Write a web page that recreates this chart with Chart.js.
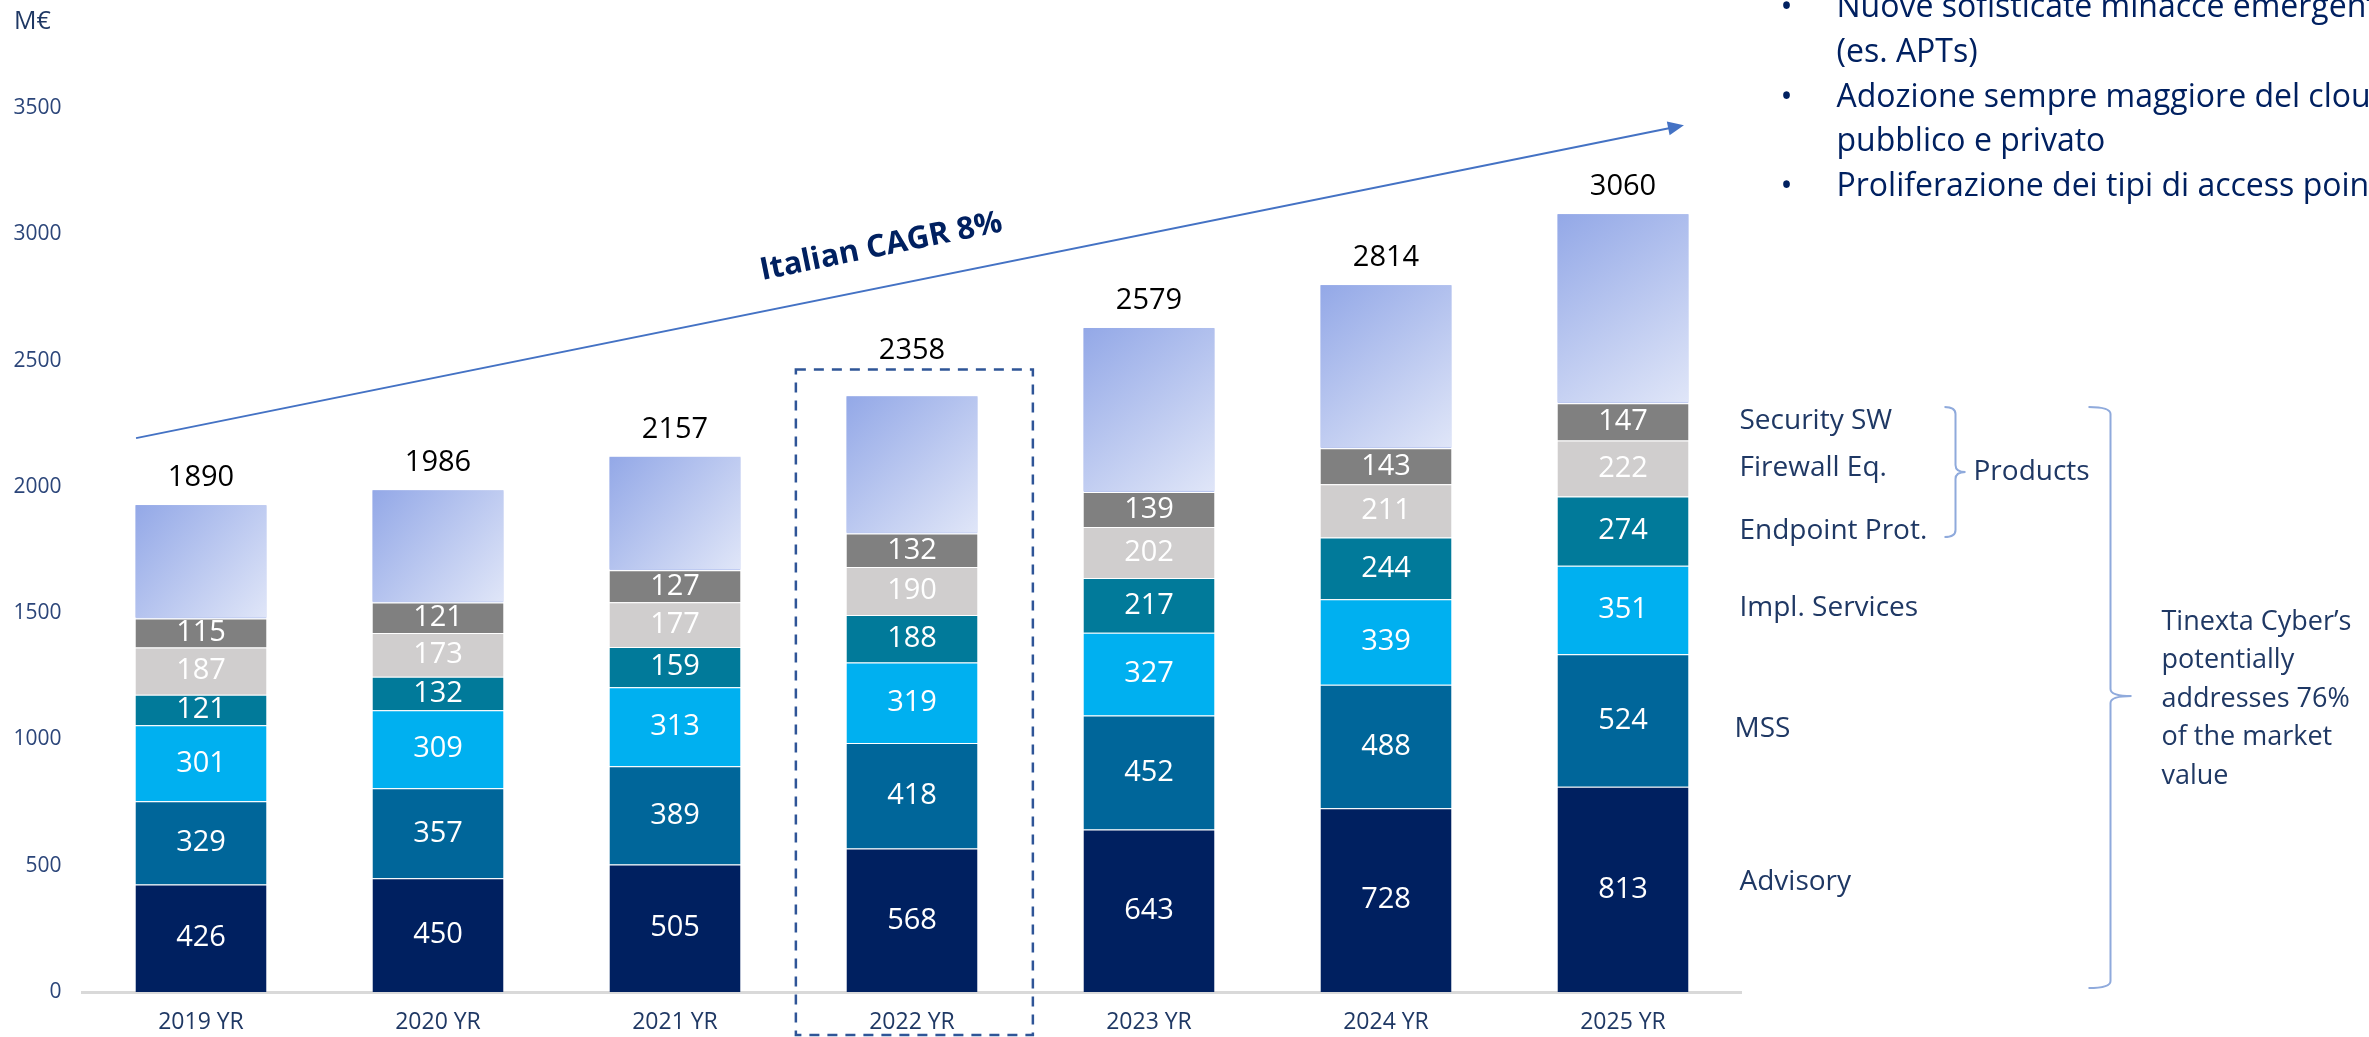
<!doctype html>
<html lang="it">
<head>
  <meta charset="utf-8">
  <title>Mercato italiano cyber security</title>
  <style>
    * { margin: 0; padding: 0; }
    body { background: white; overflow: hidden; }
    .chartBox { width: 2369px; height: 1037px; position: relative; }
  </style>
</head>
<body>
<div class="chartBox">
  <canvas id="myChart"></canvas>
</div>

<script src="https://cdn.jsdelivr.net/npm/chart.js"></script>
<script>
  // data (M€)
  const years = ['2019 YR', '2020 YR', '2021 YR', '2022 YR', '2023 YR', '2024 YR', '2025 YR'];
  const advisory     = [426, 450, 505, 568, 643, 728, 813];
  const mss          = [329, 357, 389, 418, 452, 488, 524];
  const implServices = [301, 309, 313, 319, 327, 339, 351];
  const endpointProt = [121, 132, 159, 188, 217, 244, 274];
  const firewallEq   = [187, 173, 177, 190, 202, 211, 222];
  const securitySW   = [115, 121, 127, 132, 139, 143, 147];
  // unlabelled top block (rest of the market)
  const restOfMarket = [449, 445, 449, 544, 649, 646, 749];
  const totals       = [1890, 1986, 2157, 2358, 2579, 2814, 3060];
  const highlighted  = '2022 YR';

  const segmentNames = ['Advisory', 'MSS', 'Impl. Services', 'Endpoint Prot.', 'Firewall Eq.', 'Security SW'];
  const bulletLines = [
    ['Nuove sofisticate minacce emergenti', '(es. APTs)'],
    ['Adozione sempre maggiore del cloud', 'pubblico e privato'],
    ['Proliferazione dei tipi di access point']
  ];
  const cagrLabel = 'Italian CAGR 8%';
  const tinextaLines = ['Tinexta Cyber\u2019s', 'potentially', 'addresses 76%', 'of the market', 'value'];

  const FONT = "'Open Sans', sans-serif";
  const NAVY = '#1F3864';

  const data = {
    labels: years,
    datasets: [
      { label: 'Advisory', data: advisory, backgroundColor: '#002060' },
      { label: 'MSS', data: mss, backgroundColor: '#00669A' },
      { label: 'Impl. Services', data: implServices, backgroundColor: '#00B0F0' },
      { label: 'Endpoint Prot.', data: endpointProt, backgroundColor: '#017A9A' },
      { label: 'Firewall Eq.', data: firewallEq, backgroundColor: '#D0CECE' },
      { label: 'Security SW', data: securitySW, backgroundColor: '#808080' },
      { label: 'Totale', data: restOfMarket, backgroundColor: '#B9C6F0' }
    ]
  };
  data.datasets.forEach(ds => {
    ds.borderWidth = { top: 1, left: 0, right: 0, bottom: 0 };
    ds.borderColor = 'rgba(255,255,255,0.45)';
    ds.borderSkipped = 'start';
  });

  function bracket(ctx, xa, xb, xc, top, tip, bottom) {
    // "}" shape
    const r = 7;
    ctx.beginPath();
    ctx.moveTo(xa, top);
    ctx.quadraticCurveTo(xb, top, xb, top + r);
    ctx.lineTo(xb, tip - r);
    ctx.quadraticCurveTo(xb, tip, xc, tip);
    ctx.quadraticCurveTo(xb, tip, xb, tip + r);
    ctx.lineTo(xb, bottom - r);
    ctx.quadraticCurveTo(xb, bottom, xa, bottom);
    ctx.stroke();
  }

  const overlay = {
    id: 'overlay',
    afterDatasetsDraw(chart) {
      const { ctx, chartArea: ca, scales: { x, y } } = chart;
      ctx.save();

      // gradient on the top block + totals above it
      const topMeta = chart.getDatasetMeta(6);
      topMeta.data.forEach((bar, i) => {
        const left = bar.x - bar.width / 2;
        const g = ctx.createLinearGradient(left, bar.y, left + bar.width, bar.base);
        g.addColorStop(0, '#93A8E7');
        g.addColorStop(1, '#E0E6F8');
        ctx.fillStyle = g;
        ctx.fillRect(left, bar.y, bar.width, bar.base - bar.y - 1);
        ctx.fillStyle = '#000';
        ctx.font = `29px ${FONT}`;
        ctx.textAlign = 'center';
        ctx.textBaseline = 'middle';
        // the highlighted year's total sits above the dashed frame
        const off = years[i] === highlighted ? 45 : 27;
        ctx.fillText(totals[i], bar.x, bar.y - off);
      });

      // values inside the segments
      ctx.font = `29px ${FONT}`;
      ctx.fillStyle = '#fff';
      for (let d = 0; d < 6; d++) {
        chart.getDatasetMeta(d).data.forEach((bar, i) => {
          ctx.fillText(chart.data.datasets[d].data[i], bar.x, (bar.y + bar.base) / 2);
        });
      }

      // CAGR arrow
      const x0 = x.getPixelForValue(-0.274), y0 = y.getPixelForValue(2193);
      const x1 = x.getPixelForValue(6.257), y1 = y.getPixelForValue(3432);
      const ang = Math.atan2(y1 - y0, x1 - x0);
      ctx.strokeStyle = '#4472C4';
      ctx.fillStyle = '#4472C4';
      ctx.lineWidth = 2;
      ctx.beginPath();
      ctx.moveTo(x0, y0);
      ctx.lineTo(x1 - 14 * Math.cos(ang), y1 - 14 * Math.sin(ang));
      ctx.stroke();
      ctx.beginPath();
      ctx.moveTo(x1, y1);
      ctx.lineTo(x1 - 16 * Math.cos(ang) + 7 * Math.sin(ang), y1 - 16 * Math.sin(ang) - 7 * Math.cos(ang));
      ctx.lineTo(x1 - 16 * Math.cos(ang) - 7 * Math.sin(ang), y1 - 16 * Math.sin(ang) + 7 * Math.cos(ang));
      ctx.closePath();
      ctx.fill();

      ctx.save();
      ctx.translate(x.getPixelForValue(2.87), y.getPixelForValue(2950));
      ctx.rotate(ang);
      ctx.fillStyle = '#002060';
      ctx.font = `bold 31px ${FONT}`;
      ctx.fillText(cagrLabel, 0, 0);
      ctx.restore();

      // dashed box around 2022
      ctx.strokeStyle = '#2F5597';
      ctx.lineWidth = 2.5;
      ctx.setLineDash([10, 8]);
      const bx0 = x.getPixelForValue(2.51), bx1 = x.getPixelForValue(3.51);
      const by0 = y.getPixelForValue(2465), by1 = y.getPixelForValue(-170);
      ctx.strokeRect(bx0, by0, bx1 - bx0, by1 - by0);
      ctx.setLineDash([]);

      // segment names on the right
      const nameY = [435, 1041, 1520, 1825, 2074, 2260];
      ctx.fillStyle = NAVY;
      ctx.font = `28px ${FONT}`;
      ctx.textAlign = 'left';
      segmentNames.forEach((n, k) => {
        ctx.fillText(n, ca.right + (n === 'MSS' ? -7 : -2), y.getPixelForValue(nameY[k]));
      });

      // brackets
      ctx.strokeStyle = '#8FAADC';
      ctx.lineWidth = 2;
      bracket(ctx, ca.right + 203, ca.right + 214, ca.right + 224,
        y.getPixelForValue(2316), y.getPixelForValue(2059), y.getPixelForValue(1801));
      ctx.fillText('Products', ca.right + 232, y.getPixelForValue(2059));
      bracket(ctx, ca.right + 347, ca.right + 369, ca.right + 390,
        y.getPixelForValue(2316), y.getPixelForValue(1172), y.getPixelForValue(16));

      ctx.font = `27px ${FONT}`;
      tinextaLines.forEach((t, k) => {
        ctx.fillText(t, ca.right + 420, y.getPixelForValue(1172) - 74 + k * 38.5);
      });

      // bullets at top right
      ctx.fillStyle = '#002060';
      ctx.font = `32px ${FONT}`;
      let ly = 8;
      bulletLines.forEach(lines => {
        ctx.fillText('\u2022', ca.right + 39, ly);
        lines.forEach(l => {
          ctx.fillText(l, ca.right + 95, ly);
          ly += 44.7;
        });
      });

      // unit label
      ctx.fillStyle = NAVY;
      ctx.font = `25px ${FONT}`;
      ctx.fillText('M\u20ac', 14, 22);

      ctx.restore();
    }
  };

  const config = {
    type: 'bar',
    data,
    options: {
      responsive: true,
      maintainAspectRatio: false,
      animation: false,
      events: [],
      layout: { padding: { top: 108, right: 627.5, left: 0, bottom: 0 } },
      datasets: { bar: { categoryPercentage: 1, barPercentage: 0.553 } },
      scales: {
        x: {
          stacked: true,
          grid: { display: false, drawTicks: false },
          border: { color: '#D9D9D9', width: 3 },
          ticks: { color: NAVY, font: { family: FONT, size: 23 }, padding: 17 },
          afterFit: s => { s.height = 45; }
        },
        y: {
          stacked: true,
          min: 0,
          max: 3500,
          grid: { display: false, drawTicks: false },
          border: { display: false },
          ticks: {
            stepSize: 500,
            color: '#2B4579',
            font: { family: FONT, size: 21 },
            padding: 21,
            callback: v => String(v)
          },
          afterFit: s => { s.width = 82.5; }
        }
      },
      plugins: {
        legend: { display: false },
        tooltip: { enabled: false }
      }
    },
    plugins: [overlay]
  };

  const myChart = new Chart(document.getElementById('myChart'), config);
</script>
</body>
</html>
